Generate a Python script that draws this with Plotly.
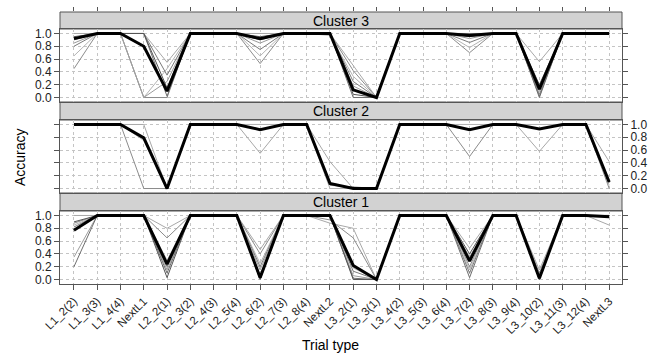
import plotly.graph_objects as go

trial_types = ["L1_2(2)", "L1_3(3)", "L1_4(4)", "NextL1", "L2_2(1)", "L2_3(2)",
               "L2_4(3)", "L2_5(4)", "L2_6(2)", "L2_7(3)", "L2_8(4)", "NextL2",
               "L3_2(1)", "L3_3(1)", "L3_4(2)", "L3_5(3)", "L3_6(4)", "L3_7(2)",
               "L3_8(3)", "L3_9(4)", "L3_10(2)", "L3_11(3)", "L3_12(4)", "NextL3"]

y_ticks = [0.0, 0.2, 0.4, 0.6, 0.8, 1.0]

# Cluster 3 (top panel)
c3_mean = [0.92, 1, 1, 0.80, 0.10, 1, 1, 1, 0.92, 1, 1, 1, 0.12, 0.0, 1, 1, 1, 0.97, 1, 1, 0.13, 1, 1, 1]
c3_s1 = [1.00, 1, 1, 1.00, 0.55, 1, 1, 1, 1.00, 1, 1, 1.00, 0.50, 0.0, 1, 1, 1, 1.00, 1, 1, 0.56, 1, 1, 1]
c3_s2 = [0.45, 1, 1, 0.00, 0.00, 1, 1, 1, 0.53, 1, 1, 1.00, 0.42, 0.0, 1, 1, 1, 0.70, 1, 1, 0.05, 1, 1, 1]
c3_s3 = [0.65, 1, 1, 0.00, 0.45, 1, 1, 1, 0.65, 1, 1, 0.97, 0.33, 0.0, 1, 1, 1, 0.78, 1, 1, 0.10, 1, 1, 1]
c3_s4 = [0.80, 1, 1, 1.00, 0.35, 1, 1, 1, 0.75, 1, 1, 1.00, 0.25, 0.0, 1, 1, 1, 0.86, 1, 1, 0.02, 1, 1, 1]
c3_s5 = [0.85, 1, 1, 0.00, 0.25, 1, 1, 1, 0.85, 1, 1, 1.00, 0.18, 0.0, 1, 1, 1, 0.92, 1, 1, 0.15, 1, 1, 1]
c3_s6 = [0.90, 1, 1, 1.00, 0.02, 1, 1, 1, 0.90, 1, 1, 1.00, 0.00, 0.0, 1, 1, 1, 1.00, 1, 1, 0.00, 1, 1, 1]
c3_s7 = [0.95, 1, 1, 1.00, 0.15, 1, 1, 1, 0.95, 1, 1, 1.00, 0.05, 0.0, 1, 1, 1, 0.95, 1, 1, 0.20, 1, 1, 1]

# Cluster 2 (middle panel)
c2_mean = [1, 1, 1, 0.79, 0.0, 1, 1, 1, 0.92, 1, 1, 0.08, 0.0, 0.0, 1, 1, 1, 0.92, 1, 1, 0.93, 1, 1, 0.10]
c2_s1 = [1, 1, 1, 1.00, 0.0, 1, 1, 1, 0.55, 1, 1, 0.42, 0.0, 0.0, 1, 1, 1, 1.00, 1, 1, 0.58, 1, 1, 0.42]
c2_s2 = [1, 1, 1, 0.00, 0.0, 1, 1, 1, 1.00, 1, 1, 0.05, 0.02, 0.0, 1, 1, 1, 0.50, 1, 1, 1.00, 1, 1, 0.00]
c2_s3 = [1, 1, 1, 0.75, 0.0, 1, 1, 1, 1.00, 1, 1, 0.00, 0.0, 0.0, 1, 1, 1, 1.00, 1, 1, 1.00, 1, 1, 0.05]

# Cluster 1 (bottom panel)
c1_mean = [0.77, 1, 1, 1, 0.24, 1, 1, 1, 0.03, 1, 1, 1.00, 0.22, 0.0, 1, 1, 1, 0.29, 1, 1, 0.02, 1, 1, 0.98]
c1_s1 = [1.00, 1, 1, 1, 0.80, 1, 1, 1, 0.47, 1, 1, 0.88, 0.80, 0.0, 1, 1, 1, 0.49, 1, 1, 0.15, 1, 1, 0.85]
c1_s2 = [0.88, 1, 1, 1, 0.65, 1, 1, 1, 0.40, 1, 1, 0.93, 0.65, 0.0, 1, 1, 1, 0.20, 1, 1, 0.10, 1, 1, 1.00]
c1_s3 = [0.85, 1, 1, 1, 0.30, 1, 1, 1, 0.25, 1, 1, 1.00, 0.18, 0.0, 1, 1, 1, 0.15, 1, 1, 0.05, 1, 1, 1.00]
c1_s4 = [0.82, 1, 1, 1, 0.20, 1, 1, 1, 0.20, 1, 1, 1.00, 0.13, 0.0, 1, 1, 1, 0.10, 1, 1, 0.00, 1, 1, 1.00]
c1_s5 = [0.35, 1, 1, 1, 0.15, 1, 1, 1, 0.15, 1, 1, 1.00, 0.06, 0.0, 1, 1, 1, 0.35, 1, 1, 0.00, 1, 1, 1.00]
c1_s6 = [0.20, 1, 1, 1, 0.10, 1, 1, 1, 0.05, 1, 1, 1.00, 0.02, 0.0, 1, 1, 1, 0.03, 1, 1, 0.02, 1, 1, 1.00]
c1_s7 = [0.90, 1, 1, 1, 0.03, 1, 1, 1, 0.00, 1, 1, 1.00, 0.00, 0.0, 1, 1, 1, 0.40, 1, 1, 0.00, 1, 1, 1.00]

clusters = [
    ("Cluster 1", "x", "y", c1_mean, [c1_s1, c1_s2, c1_s3, c1_s4, c1_s5, c1_s6, c1_s7]),
    ("Cluster 2", "x2", "y2", c2_mean, [c2_s1, c2_s2, c2_s3]),
    ("Cluster 3", "x3", "y3", c3_mean, [c3_s1, c3_s2, c3_s3, c3_s4, c3_s5, c3_s6, c3_s7]),
]

gray_shades = ["#a8a8a8", "#8c8c8c", "#b4b4b4", "#7a7a7a", "#9c9c9c", "#6e6e6e", "#555555"]

W, H = 651, 358
ML, MR, MT, MB = 60, 29, 12, 74
PH = H - MT - MB


def py(p):
    return (H - MB - p) / PH


xs = list(range(len(trial_types)))
fig = go.Figure()
for name, xa, ya, mean, subs in clusters:
    for k, s in enumerate(subs):
        fig.add_trace(go.Scatter(x=xs, y=s, mode="lines", xaxis=xa, yaxis=ya,
                                 line=dict(color=gray_shades[k % len(gray_shades)], width=1),
                                 showlegend=False, hoverinfo="skip"))
    fig.add_trace(go.Scatter(x=xs, y=mean, mode="lines", xaxis=xa, yaxis=ya,
                             line=dict(color="black", width=3), showlegend=False))

# dummy trace for top tick axis
fig.add_trace(go.Scatter(x=[None], y=[None], xaxis="x4", yaxis="y4", showlegend=False))

font = "Liberation Sans, Arial, sans-serif"
xr = [-0.6, 23.55]
yr = [-0.07, 1.07]
grid = dict(showgrid=True, gridcolor="#c4c4c4", griddash="dot", gridwidth=1)

panel_dom = {
    "y": [py(284), py(211)],
    "y2": [py(193), py(120)],
    "y3": [py(102), py(29)],
}
strip_dom = {
    "Cluster 1": [py(211), py(193)],
    "Cluster 2": [py(120), py(102)],
    "Cluster 3": [py(29), py(12)],
}

axis_line = dict(showline=True, linecolor="#555555", linewidth=1, mirror=True)
tickfont = dict(family=font, size=12, color="#222222")

layout = dict(
    template="none",
    width=W, height=H,
    margin=dict(l=ML, r=MR, t=MT, b=MB, autoexpand=False),
    paper_bgcolor="white", plot_bgcolor="white",
    font=dict(family=font, color="black"),
    showlegend=False,
)

# x axes
layout["xaxis"] = dict(domain=[0, 1], anchor="y", range=xr, tickmode="array", tickvals=xs,
                       ticktext=trial_types, tickangle=-45, ticks="outside", ticklen=5,
                       tickcolor="#555555", tickfont=dict(family=font, size=11.5, color="#222222"),
                       zeroline=False, automargin=False, **grid, **axis_line)
for xa, ya in [("xaxis2", "y2"), ("xaxis3", "y3")]:
    layout[xa] = dict(domain=[0, 1], anchor=ya, range=xr, tickmode="array", tickvals=xs,
                      showticklabels=False, ticks="", zeroline=False, automargin=False,
                      **grid, **axis_line)
layout["xaxis4"] = dict(domain=[0, 1], anchor="y4", range=xr, tickmode="array", tickvals=xs,
                        side="top", ticks="outside", ticklen=4, tickcolor="#555555",
                        showticklabels=False, showgrid=False, zeroline=False, showline=False,
                        automargin=False)
layout["yaxis4"] = dict(domain=strip_dom["Cluster 3"], anchor="x4", range=[0, 1],
                        visible=False, fixedrange=True, automargin=False)

# y axes
for ya, side in [("yaxis", "left"), ("yaxis2", "right"), ("yaxis3", "left")]:
    key = "y" if ya == "yaxis" else ya.replace("axis", "")
    layout[ya] = dict(domain=panel_dom[key], anchor="x" if ya == "yaxis" else "x" + ya[-1],
                      range=yr, tickvals=y_ticks, tickformat=".1f", side=side,
                      ticks="outside", ticklen=5, tickcolor="#555555", tickfont=tickfont,
                      zeroline=False, automargin=False, **grid, showline=True,
                      linecolor="#555555", linewidth=1, mirror="ticks")

fig.update_layout(**layout)

# strips
for name, dom in strip_dom.items():
    fig.add_shape(type="rect", xref="paper", yref="paper", x0=0, x1=1, y0=dom[0], y1=dom[1],
                  fillcolor="#d2d2d2", line=dict(color="#555555", width=1), layer="below")
    fig.add_annotation(text=name, xref="paper", yref="paper", x=0.5, y=(dom[0] + dom[1]) / 2,
                       showarrow=False, xanchor="center", yanchor="middle",
                       font=dict(family=font, size=14, color="black"))

fig.add_annotation(text="Accuracy", xref="paper", yref="paper", x=(20 - ML) / (W - ML - MR),
                   y=py(157), textangle=-90, showarrow=False, xanchor="center", yanchor="middle",
                   font=dict(family=font, size=14, color="black"))
fig.add_annotation(text="Trial type", xref="paper", yref="paper", x=(330 - ML) / (W - ML - MR),
                   y=py(345), showarrow=False, xanchor="center", yanchor="middle",
                   font=dict(family=font, size=14, color="black"))

fig.write_html("out.html", config={"displayModeBar": False},
               post_script="document.body.style.margin='0';document.body.style.overflow='hidden';")
